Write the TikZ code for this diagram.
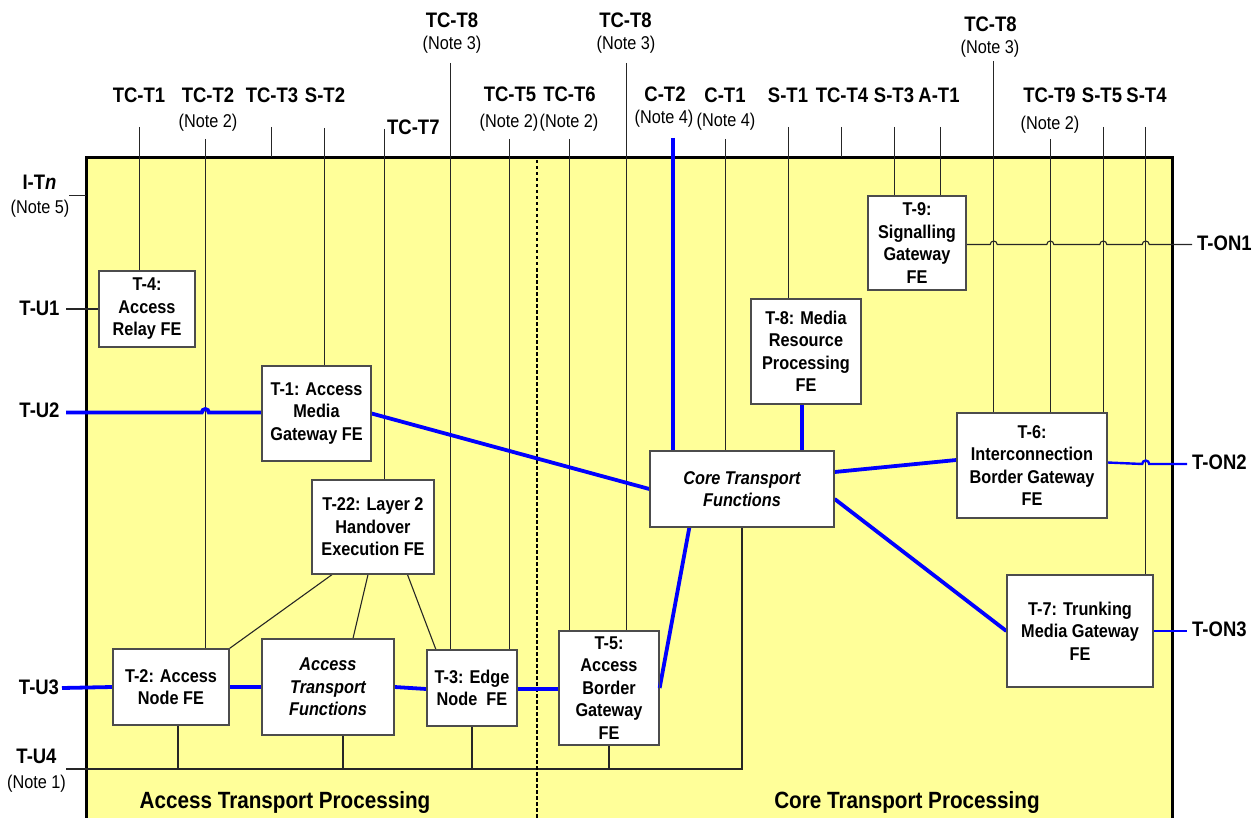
\documentclass[tikz,border=0pt]{standalone}
\usepackage{fontspec}
\setmainfont[FakeStretch=0.88]{Liberation Sans}
\usetikzlibrary{calc}
\newcommand\fs{\fontsize{18.5}{22.5}\selectfont}
\newcommand\fl{\fontsize{21}{25}\selectfont}
\begin{document}
\begin{tikzpicture}[x=1pt,y=-1pt,
  fe/.style={draw=black!70, line width=1.3pt, fill=white, inner sep=1pt, align=center, font=\fs\bfseries},
  fi/.style={fe, font=\fs\bfseries\itshape},
  lbl/.style={font=\fl\bfseries, inner sep=0pt, anchor=base},
  note/.style={font=\fs, inner sep=0pt, anchor=base},
  ttl/.style={font=\fontsize{23.5}{28}\selectfont\bfseries, inner sep=0pt, anchor=base},
  tl/.style={draw=black!85, line width=1.1pt},
  bl/.style={draw=blue, line width=3.8pt},
  bln/.style={draw=blue, line width=2.4pt}]
\useasboundingbox (0,0) rectangle (1260,818);
\clip (0,0) rectangle (1260,818);

% transport stratum area
\draw[line width=3pt, fill={rgb,255:red,255;green,255;blue,153}] (86,157.5) rectangle (1172,840);

% ---------- functional entities ----------
\node[fe, minimum width=96pt,  minimum height=76pt]  (t4)   at (147,309)    {T-4:\\Access\\Relay FE};
\node[fe, minimum width=109pt, minimum height=95pt]  (t1)   at (316.5,413.5) {T-1: Access\\Media\\Gateway FE};
\node[fe, minimum width=122pt, minimum height=94pt]  (t22)  at (373,527)    {T-22: Layer 2\\Handover\\Execution FE};
\node[fe, minimum width=116pt, minimum height=76pt]  (t2)   at (171,687)    {T-2: Access\\Node FE};
\node[fi, minimum width=132pt, minimum height=96pt]  (atf)  at (328,687)    {Access\\Transport\\Functions};
\node[fe, minimum width=90pt,  minimum height=76pt]  (t3)   at (472,688)    {T-3: Edge\\Node\ \ FE};
\node[fe, minimum width=100pt, minimum height=114pt] (t5)   at (609,688)    {T-5:\\Access\\Border\\Gateway\\FE};
\node[fi, minimum width=184pt, minimum height=76pt]  (core) at (742,489)    {Core Transport\\Functions};
\node[fe, minimum width=110pt, minimum height=104pt] (t8)   at (806,351.5)  {T-8: Media\\Resource\\Processing\\FE};
\node[fe, minimum width=98pt,  minimum height=94pt]  (t9)   at (917,243)    {T-9:\\Signalling\\Gateway\\FE};
\node[fe, minimum width=150pt, minimum height=105pt] (t6)   at (1032,465.5) {T-6:\\Interconnection\\Border Gateway\\FE};
\node[fe, minimum width=146pt, minimum height=112pt] (t7)   at (1080,631)   {T-7: Trunking\\Media Gateway\\FE};

% ---------- reference point labels, top ----------
\node[lbl] (lTCT1) at (139,103) {TC-T1};
\node[lbl] (lTCT2) at (208,103) {TC-T2};
\node[note] (nTCT2) at (208,127.5) {(Note 2)};
\node[lbl] (lTCT3) at (272,103) {TC-T3};
\node[lbl] (lST2) at (325,103) {S-T2};
\node[lbl, anchor=base west] (lTCT7) at (387,135) {TC-T7};
\node[lbl] (lTCT8a) at (452,28) {TC-T8};
\node[note] (nTCT8a) at (452,50) {(Note 3)};
\node[lbl] (lTCT5) at (510,102) {TC-T5};
\node[note] (nTCT5) at (509,127.5) {(Note 2)};
\node[lbl] (lTCT6) at (569.5,102) {TC-T6};
\node[note] (nTCT6) at (569,127.5) {(Note 2)};
\node[lbl] (lTCT8b) at (625.5,28) {TC-T8};
\node[note] (nTCT8b) at (626,50) {(Note 3)};
\node[lbl] (lCT2) at (665,102) {C-T2};
\node[note] (nCT2) at (664,124) {(Note 4)};
\node[lbl] (lCT1) at (725,103) {C-T1};
\node[note] (nCT1) at (726,126.5) {(Note 4)};
\node[lbl] (lST1) at (788,103) {S-T1};
\node[lbl] (lTCT4) at (842,103) {TC-T4};
\node[lbl] (lST3) at (894,103) {S-T3};
\node[lbl] (lAT1) at (939,103) {A-T1};
\node[lbl] (lTCT8c) at (990.5,31.5) {TC-T8};
\node[note] (nTCT8c) at (990,54) {(Note 3)};
\node[lbl] (lTCT9) at (1049.5,103) {TC-T9};
\node[note] (nTCT9) at (1050,130) {(Note 2)};
\node[lbl] (lST5) at (1102,103) {S-T5};
\node[lbl] (lST4) at (1146.5,103) {S-T4};

% ---------- reference point labels, sides ----------
\node[lbl] (lITn) at (39.5,190) {I-T\textit{n}};
\node[note] (nITn) at (40,214) {(Note 5)};
\node[lbl] (lTU1) at (39.5,315) {T-U1};
\node[lbl] (lTU2) at (39.5,417.5) {T-U2};
\node[lbl] (lTU3) at (39,694.5) {T-U3};
\node[lbl] (lTU4) at (36.5,763) {T-U4};
\node[note] (nTU4) at (36.5,788) {(Note 1)};
\node[lbl, anchor=base west] (lTON1) at (1197,251) {T-ON1};
\node[lbl, anchor=base west] (lTON2) at (1192,469.5) {T-ON2};
\node[lbl, anchor=base west] (lTON3) at (1192,636) {T-ON3};

% ---------- processing domains ----------
\node[ttl] (ap) at (285,808) {Access Transport Processing};
\node[ttl] (cp) at (907,808) {Core Transport Processing};

% free ends of the reference point lines
\coordinate (cTCT1) at (139.3,127);
\coordinate (cTCT2) at (205.3,139);
\coordinate (cTCT3) at (271.7,127);
\coordinate (cST2) at (324.3,128);
\coordinate (cTCT7) at (384.8,129);
\coordinate (cTCT8a) at (450.8,63);
\coordinate (cTCT5) at (509.3,139);
\coordinate (cTCT6) at (569.7,139);
\coordinate (cTCT8b) at (626.3,63);
\coordinate (cCT2) at (672.7,138);
\coordinate (cCT1) at (725.3,139);
\coordinate (cST1) at (788.3,127);
\coordinate (cTCT4) at (841.5,127);
\coordinate (cST3) at (894.3,127);
\coordinate (cAT1) at (940.7,127);
\coordinate (cTCT8c) at (993.7,61);
\coordinate (cTCT9) at (1050.3,139);
\coordinate (cST5) at (1103.3,127);
\coordinate (cST4) at (1145.7,127);
\coordinate (cITn) at (69,195.7);
\coordinate (cTU1) at (66,309);
\coordinate (cTU2) at (66,412.5);
\coordinate (cTU3) at (62,688);
\coordinate (cTU4) at (66,769);
\coordinate (cTON1) at (1192,244.5);
\coordinate (cTON2) at (1187,464);
\coordinate (cTON3) at (1187,631);
\coordinate (top) at (0,157.5);

% ---------- thin reference point lines ----------
\draw[tl] (cTCT1) -- (cTCT1 |- t4.north);
\draw[tl] (cTCT2) -- (cTCT2 |- t2.north);
\draw[tl] (cTCT3) -- (cTCT3 |- top);
\draw[tl] (cST2) -- (cST2 |- t1.north);
\draw[tl] (cTCT7) -- (cTCT7 |- t22.north);
\draw[tl] (cTCT8a) -- (cTCT8a |- t3.north);
\draw[tl] (cTCT5) -- (cTCT5 |- t3.north);
\draw[tl] (cTCT6) -- (cTCT6 |- t5.north);
\draw[tl] (cTCT8b) -- (cTCT8b |- t5.north);
\draw[tl] (cCT1) -- (cCT1 |- core.north);
\draw[tl] (cST1) -- (cST1 |- t8.north);
\draw[tl] (cTCT4) -- (cTCT4 |- top);
\draw[tl] (cST3) -- (cST3 |- t9.north);
\draw[tl] (cAT1) -- (cAT1 |- t9.north);
\draw[tl] (cTCT8c) -- (cTCT8c |- t6.north);
\draw[tl] (cTCT9) -- (cTCT9 |- t6.north);
\draw[tl] (cST5) -- (cST5 |- t6.north);
\draw[tl] (cST4) -- (cST4 |- t7.north);
\draw[tl] (cITn) -- (cITn -| 86,0);
\draw[tl] (cTU1) -- (t4.west |- cTU1);

% T-ON1 hops over the vertical lines
\draw[tl] (t9.east |- cTON1)
  -- ($(cTCT8c |- cTON1)+(-3.5,0)$) arc[start angle=180,end angle=0,radius=3.5pt]
  -- ($(cTCT9 |- cTON1)+(-3.5,0)$) arc[start angle=180,end angle=0,radius=3.5pt]
  -- ($(cST5 |- cTON1)+(-3.5,0)$) arc[start angle=180,end angle=0,radius=3.5pt]
  -- ($(cST4 |- cTON1)+(-3.5,0)$) arc[start angle=180,end angle=0,radius=3.5pt]
  -- (cTON1);

% T-U4 bus and its drops
\draw[tl] (cTU4) -- (core.south |- cTU4) -- (core.south);
\draw[tl] ([xshift=7pt]t2.south) -- ([xshift=7pt]t2.south |- cTU4);
\draw[tl] ([xshift=15pt]atf.south) -- ([xshift=15pt]atf.south |- cTU4);
\draw[tl] (t3.south) -- (t3.south |- cTU4);
\draw[tl] (t5.south) -- (t5.south |- cTU4);

% layer 2 handover control links
\draw[tl] ([xshift=-41pt]t22.south) -- (t2.north east);
\draw[tl] ([xshift=-5pt]t22.south) -- ([xshift=25pt]atf.north);
\draw[tl] ([xshift=34.5pt]t22.south) -- ([xshift=9.5pt]t3.north west);

% boundary between access and core
\draw[line width=2pt, dash pattern=on 3.5pt off 2.5pt] (536.7,160) -- (536.7,830);

% ---------- media flows ----------
\draw[bl] (cTU2) -- ($(cTCT2 |- cTU2)+(-3.5,0)$) arc[start angle=180,end angle=0,radius=3.5pt] -- (t1.west |- cTU2);
\draw[bl] (t1.east) -- (core.west);
\draw[bl] (cCT2) -- (cCT2 |- core.north);
\draw[bl] ([xshift=-4pt]t8.south) -- ([xshift=-4pt]t8.south |- core.north);
\draw[bl] ([yshift=17pt]core.east) -- ([yshift=5.5pt]t6.west);
\draw[bl] ([yshift=-10pt]core.east) -- (t7.west);
\draw[bl] ([xshift=-52.7pt]core.south) -- (t5.east);
\draw[bl] (cTU3) -- (t2.west);
\draw[bl] (t2.east) -- (atf.west);
\draw[bl] (atf.east) -- ([yshift=-1pt]t3.west);
\draw[bl] ([yshift=-1pt]t3.east) -- ([yshift=-1pt]t5.west);
\draw[bln] ([yshift=1.5pt]t6.east |- cTON2) -- ($(cST4 |- cTON2)+(-3.5,0)$) arc[start angle=180,end angle=0,radius=3.5pt] -- (cTON2);
\draw[bln] (t7.east) -- (cTON3);

% redraw box outlines above the flows
\foreach \n in {t4,t1,t22,t2,atf,t3,t5,core,t8,t9,t6,t7}{
  \draw[draw=black!70, line width=1.3pt] (\n.north west) rectangle (\n.south east);
}
\end{tikzpicture}
\end{document}
